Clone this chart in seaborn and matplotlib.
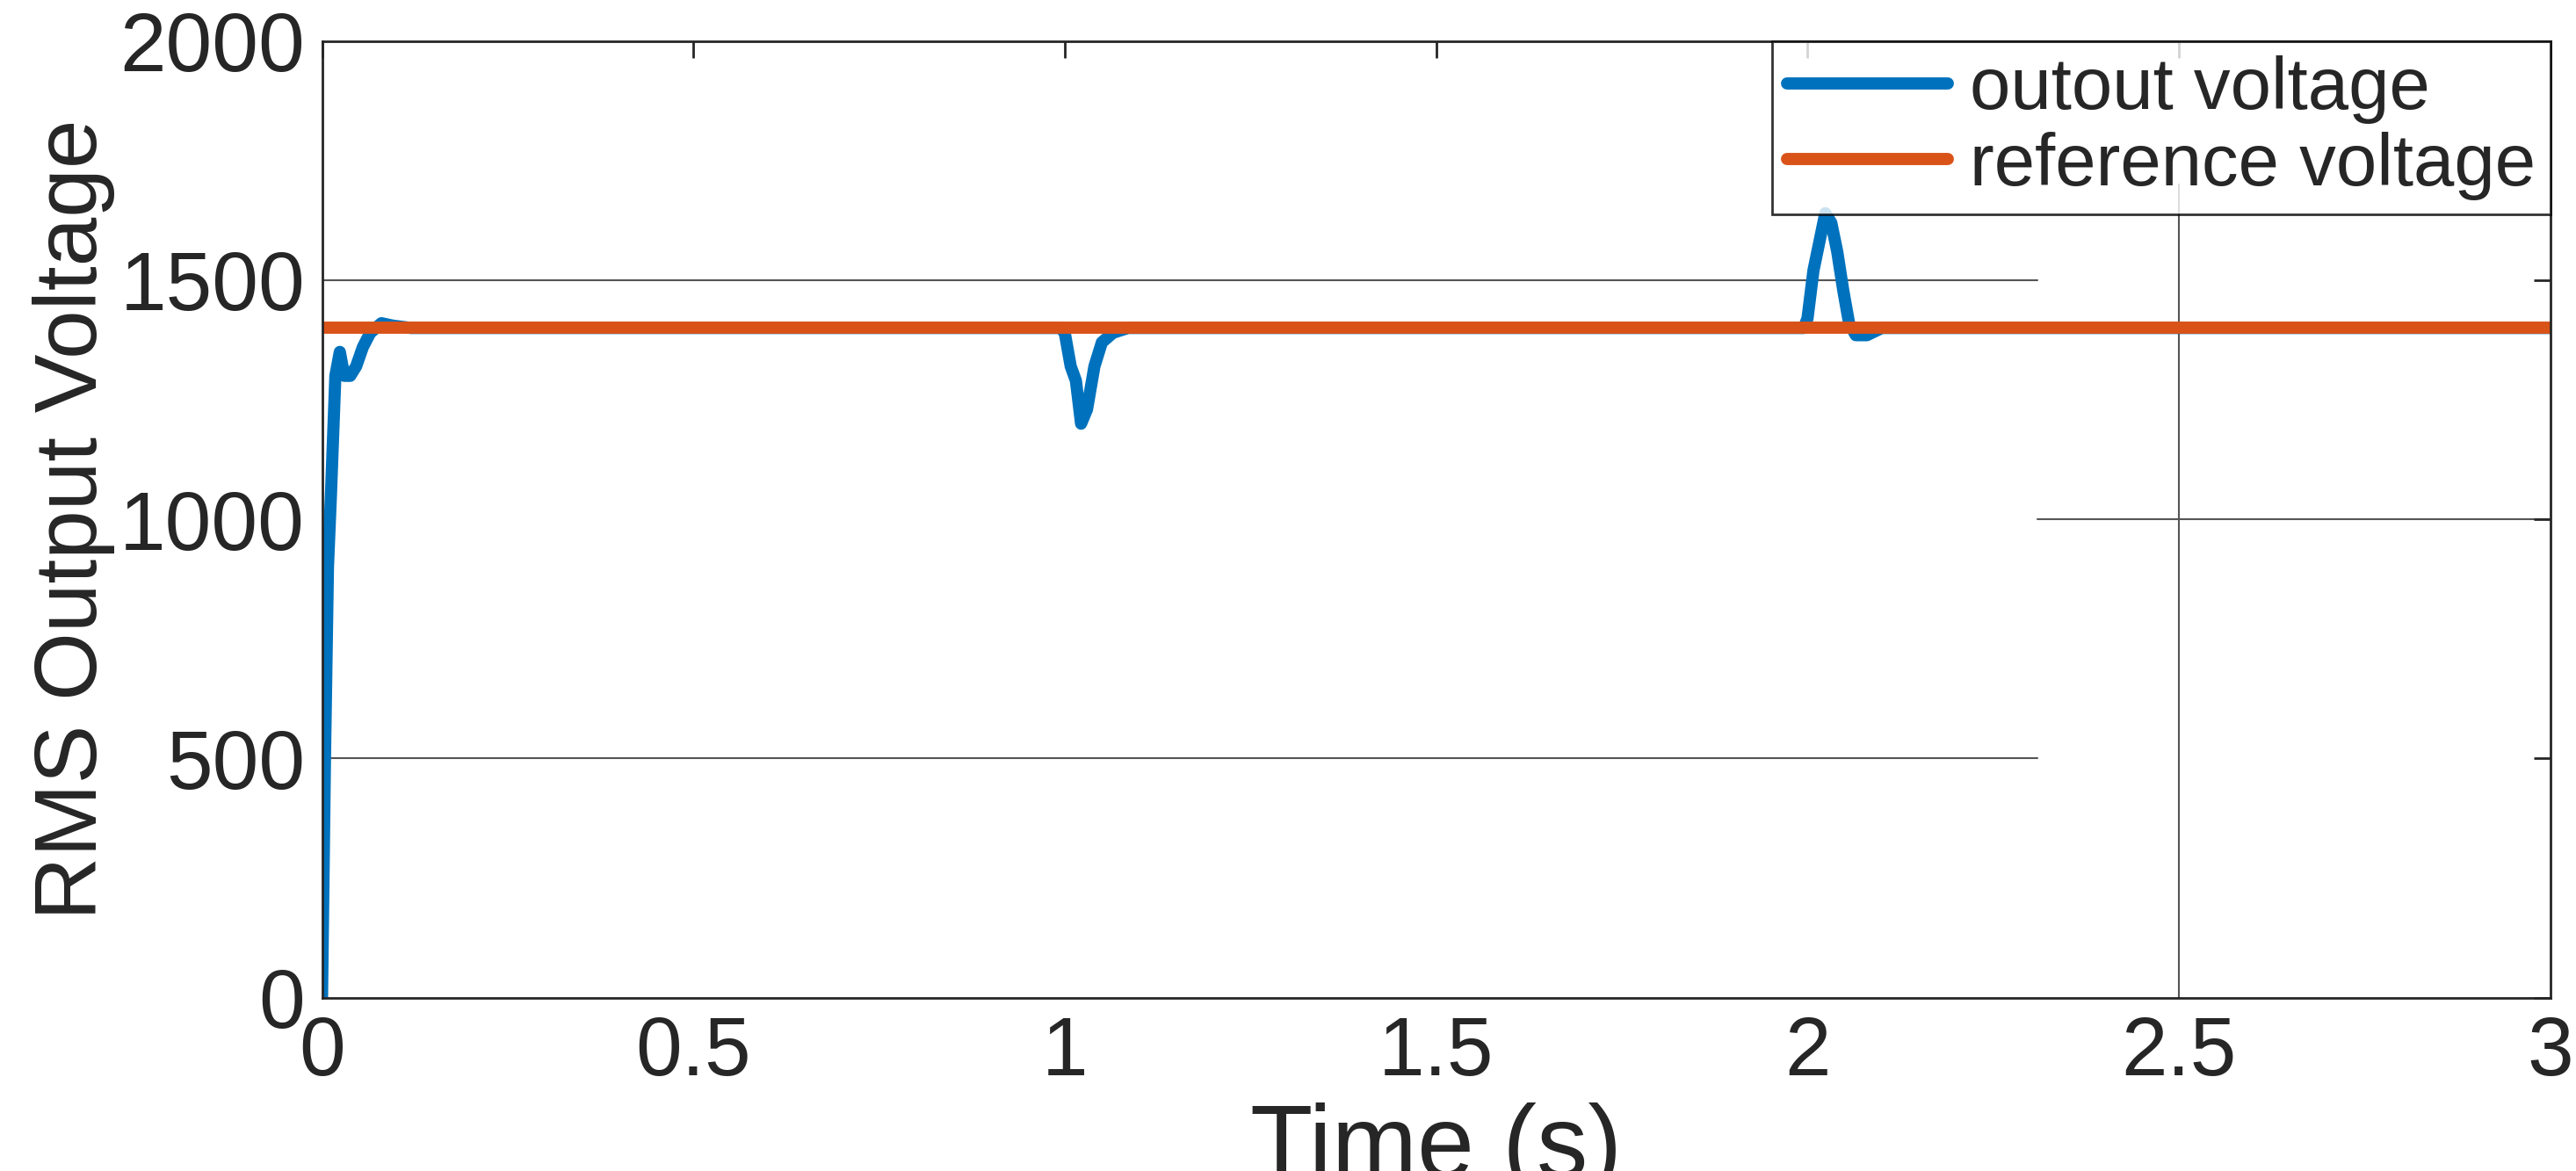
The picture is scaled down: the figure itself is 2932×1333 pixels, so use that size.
import matplotlib
matplotlib.use("Agg")
import matplotlib.pyplot as plt
import seaborn as sns
import pandas as pd

t_out = [0, 0.004, 0.008, 0.012, 0.018, 0.024, 0.03, 0.038, 0.046, 0.055, 0.065, 0.08, 0.095, 0.12,
         0.5, 0.995, 1.0, 1.008, 1.015, 1.022, 1.03, 1.04, 1.05, 1.065, 1.085, 1.12,
         1.5, 1.995, 2.0, 2.008, 2.016, 2.024, 2.032, 2.04, 2.048, 2.056, 2.065, 2.08, 2.1, 2.15, 3.0]
v_out = [0, 500, 900, 1050, 1300, 1350, 1300, 1300, 1320, 1360, 1390, 1410, 1405, 1400,
         1400, 1400, 1390, 1320, 1290, 1200, 1230, 1320, 1370, 1390, 1400, 1400,
         1400, 1400, 1420, 1520, 1580, 1640, 1620, 1560, 1480, 1410, 1385, 1385, 1400, 1400, 1400]
t_ref = [0, 3.0]
v_ref = [1400, 1400]

sns.set_theme(style="white")
plt.rcParams['font.family'] = ['Liberation Sans', 'DejaVu Sans']

fig = plt.figure(figsize=(29.32, 13.33), dpi=100)
ax = fig.add_axes([0.125, 0.148, 0.865, 0.817])

df_out = pd.DataFrame({"t": t_out, "v": v_out})
df_ref = pd.DataFrame({"t": t_ref, "v": v_ref})
sns.lineplot(data=df_out, x="t", y="v", ax=ax, color="#0072BD", lw=10, label="outout voltage")
sns.lineplot(data=df_ref, x="t", y="v", ax=ax, color="#D95319", lw=10, label="reference voltage")

ax.set_xlim(0, 3)
ax.set_ylim(0, 2000)
ax.set_xticks([0, 0.5, 1, 1.5, 2, 2.5, 3])
ax.set_xticklabels(["0", "0.5", "1", "1.5", "2", "2.5", "3"])
ax.set_yticks([0, 500, 1000, 1500, 2000])

gc = "#555555"
ax.axhline(1500, xmin=0, xmax=2.31/3, color=gc, lw=1.5, zorder=0)
ax.axhline(500, xmin=0, xmax=2.31/3, color=gc, lw=1.5, zorder=0)
ax.axhline(1000, xmin=2.31/3, xmax=1, color=gc, lw=1.5, zorder=0)
ax.axvline(2.5, ymin=0, ymax=1700/2000, color=gc, lw=1.5, zorder=0)

ax.tick_params(direction="in", length=14, width=2, labelsize=68, top=True, right=True,
               colors="#262626", pad=14)
for s in ax.spines.values():
    s.set_color("#262626")
    s.set_linewidth(2)
ax.set_xlabel("Time (s)", fontsize=84, color="#262626", labelpad=8)
ax.set_ylabel("RMS Output Voltage", fontsize=72, color="#262626", labelpad=4)

leg = ax.legend(loc="upper right", fontsize=60, frameon=True, fancybox=False,
                borderaxespad=0, handlelength=2.2, handletextpad=0.3,
                borderpad=0.2, labelspacing=0.1)
leg.get_frame().set_edgecolor("black")
leg.get_frame().set_linewidth(2)

fig.savefig("out.png", dpi=100, facecolor="white")
